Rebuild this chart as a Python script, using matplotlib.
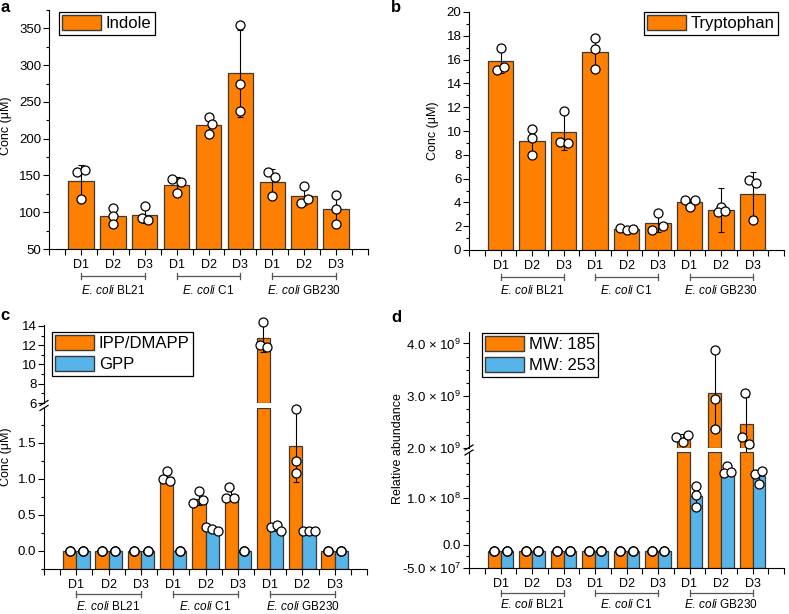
import numpy as np
import matplotlib
matplotlib.use("Agg")
import matplotlib.pyplot as plt
from matplotlib.patches import Patch
from matplotlib.lines import Line2D
from matplotlib.ticker import MultipleLocator, FixedLocator, FuncFormatter

plt.rcParams['font.family'] = ['Liberation Sans', 'DejaVu Sans']
plt.rcParams['mathtext.fontset'] = 'custom'
plt.rcParams['mathtext.rm'] = 'Liberation Sans'
plt.rcParams['mathtext.it'] = 'Liberation Sans:italic'

# ---- data ----
days = ['D1', 'D2', 'D3'] * 3
strains = ['BL21', 'C1', 'GB230']

indole_mean = [143, 95, 96.7, 137.3, 219, 289, 141.7, 121.7, 104]
indole_err = [21.8, 11, 10.8, 10, 11.5, 59.3, 17.4, 11.9, 20]
indole_pts = [[155, 157, 118], [106, 95, 84], [109, 92, 89], [145, 141, 126], [230, 220, 207],
              [354, 275, 238], [155, 148, 122], [135, 112, 118], [124, 104, 84]]

trp_mean = [15.85, 9.2, 9.95, 16.65, 1.75, 2.27, 4.0, 3.35, 4.7]
trp_err = [1.0, 1.1, 1.55, 1.15, 0.1, 0.72, 0.3, 1.85, 1.85]
trp_pts = [[17.0, 15.1, 15.4], [10.2, 9.4, 8.0], [11.7, 9.1, 9.0], [17.8, 16.9, 15.2], [1.85, 1.65, 1.75],
           [3.1, 1.7, 2.0], [4.2, 3.6, 4.2], [3.6, 3.2, 3.3], [5.9, 5.65, 2.55]]

ipp_mean = [0, 0, 0, 1.02, 0.72, 0.78, 12.7, 1.45, 0]
ipp_err = [0, 0, 0, 0.07, 0.09, 0.09, 1.4, 0.5, 0]
ipp_pts = [[0, 0, 0], [0, 0, 0], [0, 0, 0], [1.11, 1.0, 0.97], [0.83, 0.67, 0.70], [0.89, 0.74, 0.73],
           [14.4, 12.0, 11.85], [1.96, 1.25, 1.08], [0, 0, 0]]

gpp_mean = [0, 0, 0, 0, 0.30, 0, 0.31, 0.27, 0]
gpp_err = [0, 0, 0, 0, 0.025, 0, 0.04, 0.005, 0]
gpp_pts = [[0, 0, 0], [0, 0, 0], [0, 0, 0], [0, 0, 0], [0.33, 0.30, 0.28], [0, 0, 0],
           [0.33, 0.36, 0.28], [0.27, 0.27, 0.27], [0, 0, 0]]

mw185_mean = [-1.4e7] * 6 + [2.2e9, 3.06e9, 2.45e9]
mw185_err = [0] * 6 + [0.07e9, 0.76e9, 0.53e9]
mw185_pts = [[-1.4e7] * 3] * 6 + [[2.22e9, 2.12e9, 2.25e9], [3.87e9, 2.94e9, 2.36e9], [3.05e9, 2.21e9, 2.08e9]]

mw253_mean = [-1.4e7] * 6 + [1.04e8, 1.59e8, 1.46e8]
mw253_err = [0] * 6 + [0.22e8, 0.07e8, 0.14e8]
mw253_pts = [[-1.4e7] * 3] * 6 + [[1.26e8, 1.06e8, 0.81e8], [1.68e8, 1.54e8, 1.56e8], [1.50e8, 1.57e8, 1.30e8]]

# horizontal scatter of the replicate circles (layout)
Z3 = [0, 0, 0]
indole_jit = [[-.13, .13, 0], Z3, [0, -.1, .1], [-.15, .14, 0], [0, .12, 0], Z3, [-.15, .1, 0], [0, -.1, .12], Z3]
trp_jit = [[0, -.11, .12], Z3, [0, -.12, .13], Z3, [-.22, 0, .22], [0, -.2, .15], [-.14, 0, .17], [0, -.11, .14], [-.12, .11, 0]]
ipp_jit = [Z3, Z3, Z3, [0, -.12, .12], [0, -.17, .12], [-.08, -.17, .1], [0, -.12, .12], Z3, Z3]
gpp_jit = [Z3, Z3, Z3, Z3, [-.2, 0, .17], Z3, [-.17, 0, .13], [-.2, 0, .2], Z3]
mw185_jit = [Z3] * 6 + [[-.22, 0, .17], Z3, [-.03, -.12, .08]]
mw253_jit = [Z3] * 6 + [Z3, [0, -.12, .12], [-.12, .1, 0]]

# ---- style ----
W, H = 789, 614
ORANGE = '#FF8000'
BLUE = '#56B4E9'
EDGE = '#3a3a3a'
FS = 9

fig = plt.figure(figsize=(W / 100, H / 100), dpi=100)
xpos = np.arange(1, 10)


def make_ax(x0, x1, ytop, ybot):
    return fig.add_axes([x0 / W, 1 - ybot / H, (x1 - x0) / W, (ybot - ytop) / H])


def style(ax, bottom=True, goff=(27, 41)):
    for s in ['top', 'right']:
        ax.spines[s].set_visible(False)
    ax.tick_params(which='both', direction='out', width=0.8)
    ax.tick_params(axis='y', labelsize=9.5, pad=1.5)
    ax.tick_params(which='major', length=4)
    ax.tick_params(which='minor', length=2.5)
    ax.set_xlim(0, 10)
    if bottom:
        ax.set_xticks(xpos)
        ax.set_xticklabels(days, fontsize=FS)
        ax.xaxis.set_minor_locator(FixedLocator(np.arange(0, 10.01, 0.5)))
        ax.tick_params(axis='x', which='both', length=4, pad=3.5)
        groups(ax, *goff)
    else:
        ax.spines['bottom'].set_visible(False)
        ax.set_xticks([])


def groups(ax, yb, yt):
    h = ax.get_position().height * H
    tr = ax.get_xaxis_transform()
    for g, name in enumerate(strains):
        x0, x1 = xpos[3 * g], xpos[3 * g + 2]
        y = -yb / h
        c = 3 / h
        ax.plot([x0, x1], [y, y], color='#555555', lw=0.9, transform=tr, clip_on=False)
        for xx in (x0, x1):
            ax.plot([xx, xx], [y - c, y + c], color='#555555', lw=0.9, transform=tr, clip_on=False)
        ax.text((x0 + x1) / 2, -yt / h, r'$\mathit{E.\,coli}$ ' + name, transform=tr,
                ha='center', va='center', fontsize=8.5)


def series(ax, xs, means, errs, pts, jit, color, width, lo, hi, keep=lambda v: True):
    for x, m, e, p, j in zip(xs, means, errs, pts, jit):
        if m > lo:
            top = min(m, hi)
            ax.bar(x, top - lo, width, bottom=lo, color=color, edgecolor=EDGE, lw=0.9, zorder=2)
        if e > 0 and keep(m):
            ax.errorbar(x, m, yerr=e, fmt='none', ecolor='black', elinewidth=0.8,
                        capsize=2.5, capthick=0.8, zorder=3, clip_on=False)
        for v, dj in zip(p, j):
            if keep(v):
                ax.plot(x + dj, v, 'o', mfc='white', mec='black', ms=6.5, mew=0.9,
                        zorder=4, clip_on=False)


def legend(ax, labels, colors, x, y, loc='upper left'):
    handles = [Patch(facecolor=c, edgecolor=EDGE, lw=1) for c in colors]
    lg = ax.legend(handles, labels, loc=loc, bbox_to_anchor=(x / W, 1 - y / H),
                   bbox_transform=fig.transFigure, borderaxespad=0, fontsize=12,
                   fancybox=False, framealpha=1, edgecolor='black', handlelength=2.3,
                   handleheight=0.95, handletextpad=0.3, borderpad=0.2, labelspacing=0.3)
    lg.get_frame().set_linewidth(0.9)


def brk(x, y):
    for dy in (-2.5, 2.5):
        fig.add_artist(Line2D([(x - 4) / W, (x + 4) / W], [1 - (y + dy + 2.5) / H, 1 - (y + dy - 2.5) / H],
                              transform=fig.transFigure, color='black', lw=0.9))


def sci(v, pos=None):
    if v == 0:
        return '0.0'
    e = int(np.floor(np.log10(abs(v))))
    return '%.1f \u00d7 10$^{%d}$' % (v / 10 ** e, e)


# ---- panel a ----
ax = make_ax(49, 368, 10, 249)
series(ax, xpos, indole_mean, indole_err, indole_pts, indole_jit, ORANGE, 0.8, 50, 375)
ax.set_ylim(50, 375)
ax.yaxis.set_major_locator(MultipleLocator(50))
ax.yaxis.set_minor_locator(MultipleLocator(25))
style(ax)
legend(ax, ['Indole'], [ORANGE], 59, 12)
fig.text(6 / W, 1 - 126 / H, 'Conc (\u03bcM)', rotation=90, ha='center', va='center', fontsize=FS)

# ---- panel b ----
ax = make_ax(469, 784, 12, 250)
series(ax, xpos, trp_mean, trp_err, trp_pts, trp_jit, ORANGE, 0.8, 0, 20)
ax.set_ylim(0, 20)
ax.yaxis.set_major_locator(MultipleLocator(2))
ax.yaxis.set_minor_locator(MultipleLocator(1))
style(ax)
legend(ax, ['Tryptophan'], [ORANGE], 778, 12, loc='upper right')
fig.text(433 / W, 1 - 131 / H, 'Conc (\u03bcM)', rotation=90, ha='center', va='center', fontsize=FS)

# ---- panel c (broken axis) ----
bw = 0.41
axu = make_ax(44, 367, 325, 403)
axl = make_ax(44, 367, 408, 569)
c_lo, c_hi, c_split = -0.25, 1.98, 6
series(axl, xpos - bw / 2, ipp_mean, ipp_err, ipp_pts, ipp_jit, ORANGE, bw, c_lo, c_hi, lambda v: v < c_split)
series(axl, xpos + bw / 2, gpp_mean, gpp_err, gpp_pts, gpp_jit, BLUE, bw, c_lo, c_hi, lambda v: v < c_split)
series(axu, xpos - bw / 2, ipp_mean, ipp_err, ipp_pts, ipp_jit, ORANGE, bw, c_split, 14.1, lambda v: v >= c_split)
series(axu, xpos + bw / 2, gpp_mean, gpp_err, gpp_pts, gpp_jit, BLUE, bw, c_split, 14.1, lambda v: v >= c_split)
axl.set_ylim(c_lo, c_hi)
axl.yaxis.set_major_locator(FixedLocator([0, 0.5, 1.0, 1.5]))
axl.yaxis.set_minor_locator(MultipleLocator(0.25))
axl.yaxis.set_major_formatter(FuncFormatter(lambda v, p: '%.1f' % v))
axu.set_ylim(c_split, 14.1)
axu.yaxis.set_major_locator(MultipleLocator(2))
axu.yaxis.set_minor_locator(MultipleLocator(1))
style(axl, goff=(25, 37))
style(axu, bottom=False)
legend(axu, ['IPP/DMAPP', 'GPP'], [ORANGE, BLUE], 52, 332)
brk(44, 405.5)
fig.text(6 / W, 1 - 457 / H, 'Conc (\u03bcM)', rotation=90, ha='center', va='center', fontsize=FS)

# ---- panel d (broken axis) ----
axu = make_ax(469, 784, 332, 448)
axl = make_ax(469, 784, 452, 568)
d_lo, d_hi, d_split, d_top = -5e7, 1.98e8, 2e9, 4.22e9
series(axl, xpos - bw / 2, mw185_mean, mw185_err, mw185_pts, mw185_jit, ORANGE, bw, d_lo, d_hi, lambda v: v < d_split)
series(axl, xpos + bw / 2, mw253_mean, mw253_err, mw253_pts, mw253_jit, BLUE, bw, d_lo, d_hi, lambda v: v < d_split)
series(axu, xpos - bw / 2, mw185_mean, mw185_err, mw185_pts, mw185_jit, ORANGE, bw, d_split, d_top, lambda v: v >= d_split)
series(axu, xpos + bw / 2, mw253_mean, mw253_err, mw253_pts, mw253_jit, BLUE, bw, d_split, d_top, lambda v: v >= d_split)
axl.set_ylim(d_lo, d_hi)
axl.yaxis.set_major_locator(FixedLocator([-5e7, 0, 1e8]))
axl.yaxis.set_minor_locator(MultipleLocator(2.5e7))
axl.yaxis.set_major_formatter(FuncFormatter(sci))
axu.set_ylim(d_split, d_top)
axu.yaxis.set_major_locator(MultipleLocator(1e9))
axu.yaxis.set_minor_locator(MultipleLocator(2.5e8))
axu.yaxis.set_major_formatter(FuncFormatter(sci))
style(axl, goff=(25, 37))
style(axu, bottom=False)
legend(axu, ['MW: 185', 'MW: 253'], [ORANGE, BLUE], 482, 333)
brk(469, 450)
fig.text(398 / W, 1 - 449 / H, 'Relative abundance', rotation=90, ha='center', va='center', fontsize=FS)

# ---- panel letters ----
for lab, x, y in [('a', 5, 8), ('b', 396, 8), ('c', 5, 316), ('d', 396, 318)]:
    fig.text(x / W, 1 - y / H, lab, fontsize=12, fontweight='bold', ha='center', va='center')

fig.savefig('out.png', dpi=100)
